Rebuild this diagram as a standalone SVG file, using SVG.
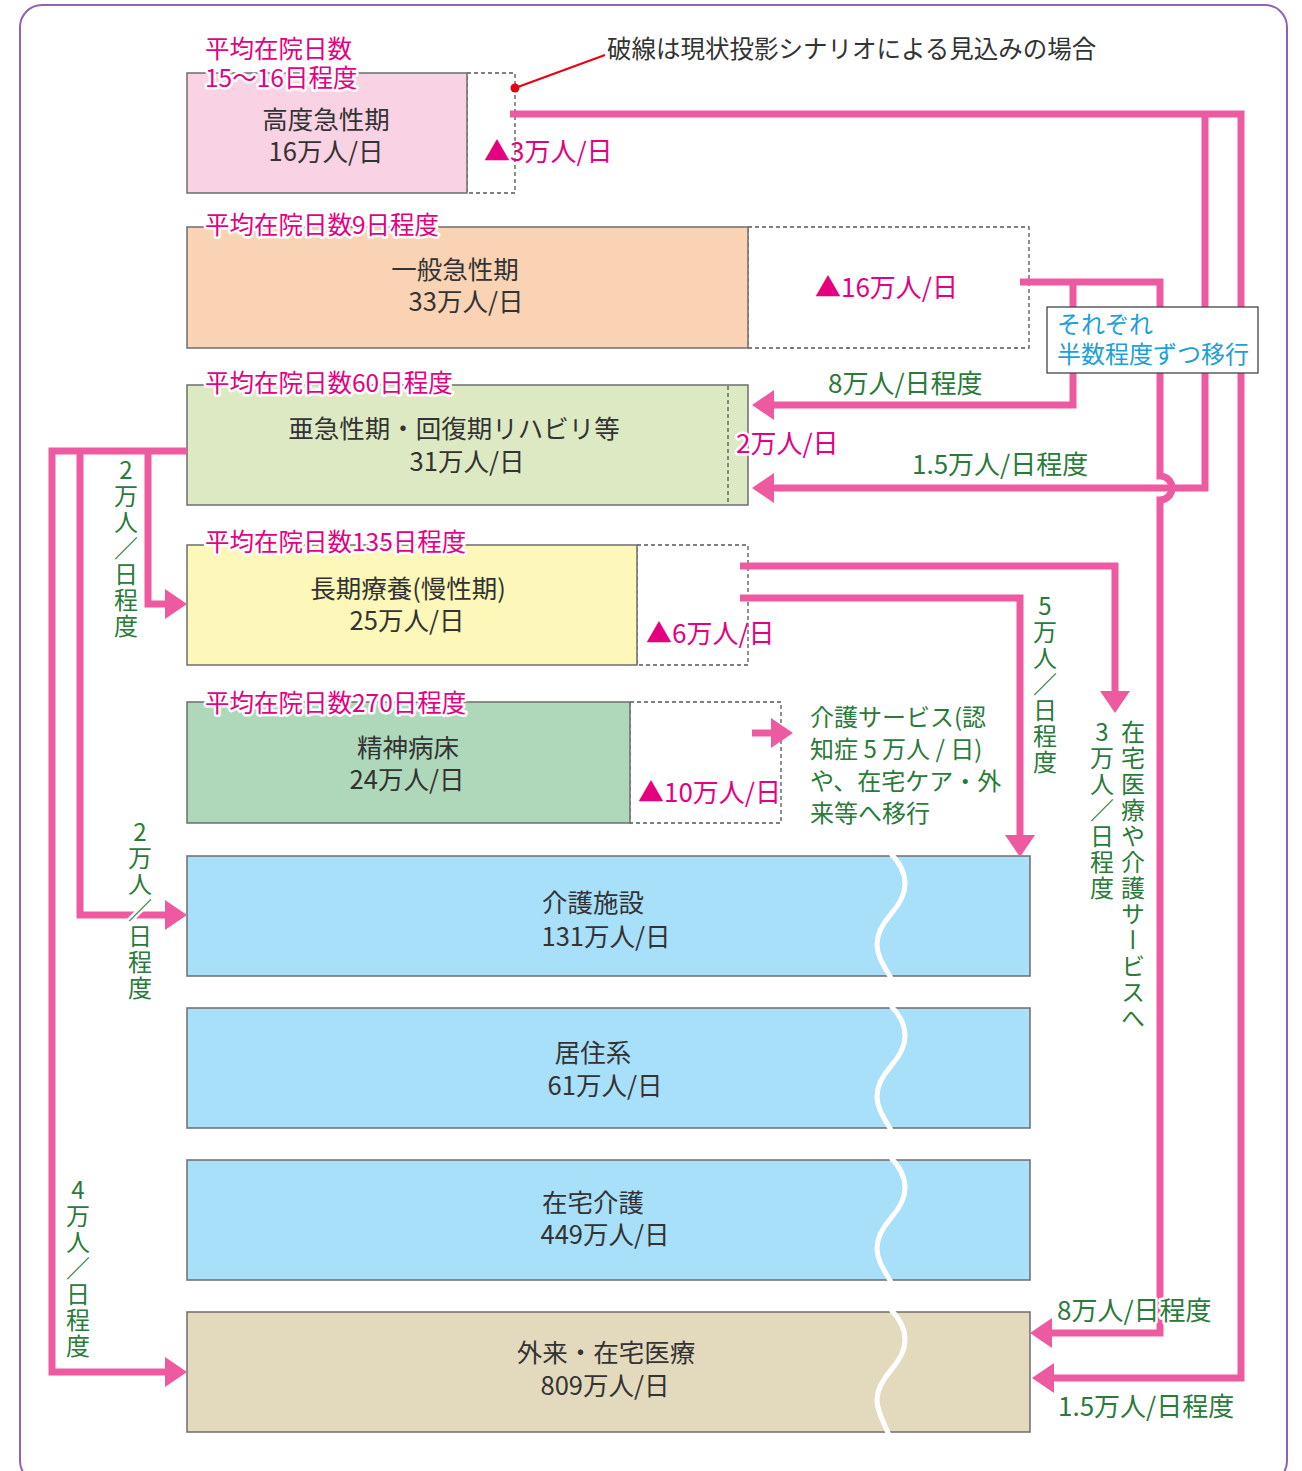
<svg xmlns="http://www.w3.org/2000/svg" width="1302" height="1471" viewBox="0 0 1302 1471">
<style>
text { font-family: "Noto Sans CJK JP", "Noto Sans", sans-serif; }
.box { stroke: #6d6d6d; stroke-width: 1.5; }
.dash { fill: none; stroke: #555; stroke-width: 1.3; stroke-dasharray: 4 3; }
.bt { font-size: 25.5px; fill: #333; text-anchor: middle; }
.mh { font-size: 24.5px; fill: #e5007f; }
.mg { font-size: 26px; fill: #e5007f; }
.halo { paint-order: stroke; stroke: #fff; stroke-width: 5; stroke-linejoin: round; }
.gr { font-size: 26px; fill: #2a7a3a; }
.grs { font-size: 24px; fill: #2a7a3a; }
.vt { font-size: 24px; fill: #2a7a3a; writing-mode: vertical-rl; text-orientation: upright; letter-spacing: 2px; }
.vm { font-size: 24px; fill: #2a7a3a; writing-mode: vertical-rl; letter-spacing: 2px; }
.bl { font-size: 24px; fill: #1e9fd8; }
.conn { fill: none; stroke: #ee5a9f; stroke-width: 7; }
.wave { fill: none; stroke: #fff; stroke-width: 5; }
</style>
<defs>
<marker id="ah" markerUnits="userSpaceOnUse" markerWidth="22" markerHeight="30" refX="3" refY="15" orient="auto">
<path d="M0,0 L22,15 L0,30 Z" fill="#ee5a9f"/>
</marker>
</defs>

<rect x="20" y="5" width="1267" height="1478" rx="22" fill="#fff" stroke="#8e63b5" stroke-width="2"/>

<g id="node-koudo">
<rect class="dash" x="467" y="73" width="48" height="120"/>
<rect class="box" x="187" y="73" width="280" height="120" fill="#f9d2e3"/>
<text class="bt" x="326" y="129">高度急性期</text>
<text class="bt" x="326" y="161">16万人/日</text>
<text class="mh halo" x="205" y="58">平均在院日数</text>
<text class="mh halo" x="205" y="87">15〜16日程度</text>
<text class="mg" x="484" y="161">▲3万人/日</text>
</g>

<g id="node-ippan">
<rect class="dash" x="748" y="227" width="281" height="121"/>
<rect class="box" x="187" y="227" width="561" height="121" fill="#f9d3b3"/>
<text class="bt" x="455" y="279">一般急性期</text>
<text class="bt" x="466" y="311">33万人/日</text>
<text class="mh halo" x="205" y="234">平均在院日数9日程度</text>
<text class="mg" x="815" y="297">▲16万人/日</text>
</g>

<g id="node-akyusei">
<rect class="box" x="187" y="385" width="561" height="120" fill="#dde9c2"/>
<line class="dash" x1="728" y1="386" x2="728" y2="504"/>
<text class="bt" x="454" y="438">亜急性期・回復期リハビリ等</text>
<text class="bt" x="467" y="471">31万人/日</text>
<text class="mh halo" x="205" y="392">平均在院日数60日程度</text>
<text class="mg halo" x="736" y="453">2万人/日</text>
</g>

<g id="node-choki">
<rect class="dash" x="637" y="545" width="111" height="120"/>
<rect class="box" x="187" y="545" width="450" height="120" fill="#fdf7b9"/>
<text class="bt" x="408" y="598">長期療養(慢性期)</text>
<text class="bt" x="407" y="630">25万人/日</text>
<text class="mh halo" x="205" y="551">平均在院日数135日程度</text>
<text class="mg" x="646" y="643">▲6万人/日</text>
</g>

<g id="node-seishin">
<rect class="dash" x="630" y="702" width="151" height="121"/>
<rect class="box" x="187" y="702" width="443" height="121" fill="#afd8bb"/>
<text class="bt" x="408" y="757">精神病床</text>
<text class="bt" x="407" y="789">24万人/日</text>
<text class="mh halo" x="205" y="712">平均在院日数270日程度</text>
<text class="mg" x="638" y="802">▲10万人/日</text>
</g>

<g id="node-kaigo-shisetsu">
<rect class="box" x="187" y="856" width="843" height="120" fill="#a8dff9"/>
<text class="bt" x="593" y="912">介護施設</text>
<text class="bt" x="606" y="946">131万人/日</text>
</g>

<g id="node-kyoju">
<rect class="box" x="187" y="1008" width="843" height="120" fill="#a8dff9"/>
<text class="bt" x="593" y="1062">居住系</text>
<text class="bt" x="605" y="1095">61万人/日</text>
</g>

<g id="node-zaitaku-kaigo">
<rect class="box" x="187" y="1160" width="843" height="120" fill="#a8dff9"/>
<text class="bt" x="593" y="1212">在宅介護</text>
<text class="bt" x="605" y="1244">449万人/日</text>
</g>

<g id="node-gairai">
<rect class="box" x="187" y="1312" width="843" height="120" fill="#e3dabe"/>
<text class="bt" x="606" y="1362">外来・在宅医療</text>
<text class="bt" x="605" y="1395">809万人/日</text>
</g>

<g id="waves">
<path class="wave" d="M891,854 C899,862 905,872 905,884 S898,906 891,914 S877,932 877,944 S884,966 891,978"/>
<path class="wave" d="M891,1006 C899,1014 905,1024 905,1036 S898,1058 891,1066 S877,1084 877,1096 S884,1118 891,1130"/>
<path class="wave" d="M891,1158 C899,1166 905,1176 905,1188 S898,1210 891,1218 S877,1236 877,1248 S884,1270 891,1282"/>
<path class="wave" d="M891,1310 C899,1318 905,1328 905,1340 S898,1362 891,1370 S877,1388 877,1400 S884,1422 891,1440"/>
</g>

<g id="note">
<line x1="515" y1="88" x2="605" y2="55" stroke="#e60012" stroke-width="2"/>
<circle cx="515" cy="88" r="4.5" fill="#e60012"/>
<text x="607" y="58" font-size="24.5" fill="#333">破線は現状投影シナリオによる見込みの場合</text>
</g>

<g id="connectors">
<path class="conn" d="M510,114 H1241 V1378 H1051" marker-end="url(#ah)"/>
<path class="conn" d="M1205,114 V488 H771" marker-end="url(#ah)"/>
<path class="conn" d="M1020,282 H1160 V476 A12,12 0 0 1 1160,500 V1333 H1049" marker-end="url(#ah)"/>
<path class="conn" d="M1073,282 V405 H771" marker-end="url(#ah)"/>
<path class="conn" d="M740,566 H1115 V694" marker-end="url(#ah)"/>
<path class="conn" d="M740,598 H1020 V838" marker-end="url(#ah)"/>
<path class="conn" d="M187,451 H52 V1372 H168" marker-end="url(#ah)"/>
<path class="conn" d="M80,451 V915 H168" marker-end="url(#ah)"/>
<path class="conn" d="M148,451 V604 H168" marker-end="url(#ah)"/>
<path class="conn" d="M752,733 H774" marker-end="url(#ah)"/>
</g>

<g id="label-box">
<rect x="1047" y="307" width="211" height="66" fill="#fff" stroke="#444" stroke-width="1.3"/>
<text class="bl" x="1057" y="333">それぞれ</text>
<text class="bl" x="1057" y="363">半数程度ずつ移行</text>
</g>

<g id="labels">
<text class="gr halo" x="828" y="393">8万人/日程度</text>
<text class="gr halo" x="912" y="474">1.5万人/日程度</text>
<text class="gr halo" x="1057" y="1320">8万人/日程度</text>
<text class="gr halo" x="1058" y="1416">1.5万人/日程度</text>
<text class="grs" x="810" y="726">介護サービス(認</text>
<text class="grs" x="810" y="758">知症 5 万人 / 日)</text>
<text class="grs" x="810" y="790">や、在宅ケア・外</text>
<text class="grs" x="810" y="822">来等へ移行</text>
<text class="vt halo" x="126" y="458">2万人／日程度</text>
<text class="vt halo" x="140" y="820">2万人／日程度</text>
<text class="vt halo" x="78" y="1178">4万人／日程度</text>
<text class="vt" x="1045" y="594">5万人／日程度</text>
<text class="vt" x="1102" y="720">3万人／日程度</text>
<text class="vm" x="1133" y="720">在宅医療や介護サービスへ</text>
</g>
</svg>
